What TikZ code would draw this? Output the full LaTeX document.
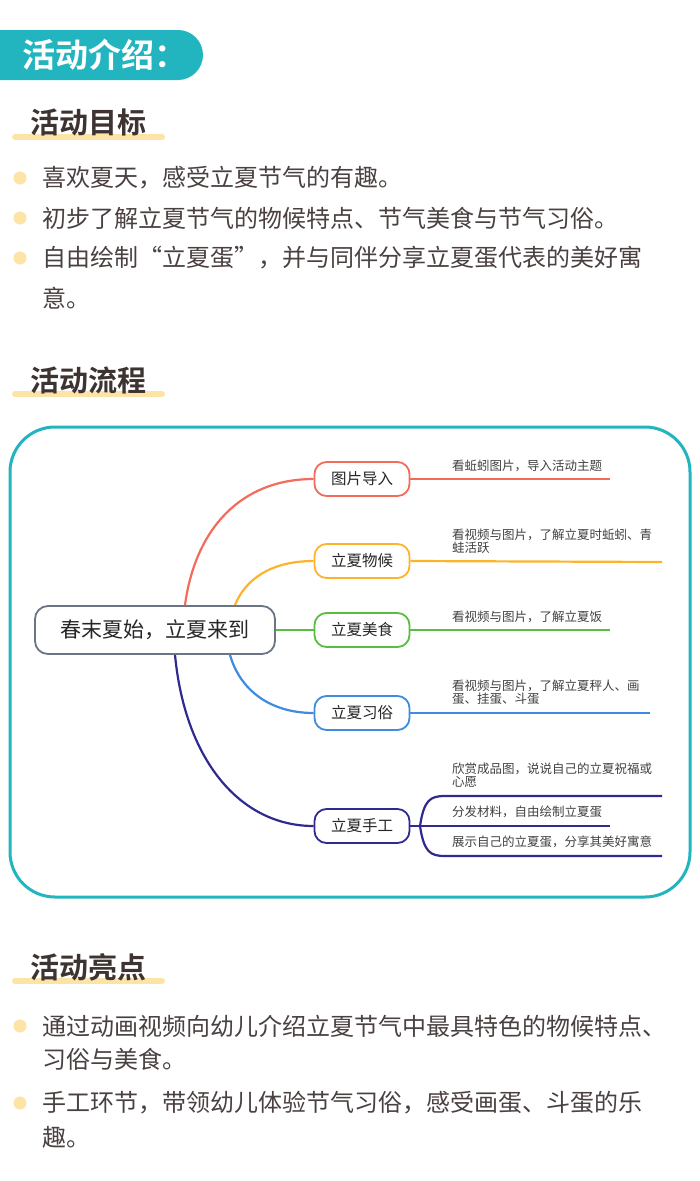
\documentclass[tikz,border=0pt]{standalone}
\usepackage{fontspec}
\usetikzlibrary{backgrounds}
\setmainfont{Noto Sans CJK SC}
\newfontfamily\cjkb{Noto Sans CJK SC Bold}
\definecolor{teal1}{HTML}{22B5BF}
\definecolor{txt}{HTML}{4A4040}
\definecolor{hd}{HTML}{3D3330}
\definecolor{yel}{HTML}{FCE3A6}
\definecolor{cr}{HTML}{F26B5B}
\definecolor{co}{HTML}{FDB42A}
\definecolor{cg}{HTML}{58BE3F}
\definecolor{cb}{HTML}{3E8BE0}
\definecolor{cp}{HTML}{2E2A8F}
\definecolor{cgray}{HTML}{6B7585}
\tikzset{
  bul/.style={anchor=west,inner sep=0,text=txt,font=\fontsize{24pt}{24pt}\selectfont},
  dot/.style={circle,fill=yel,minimum size=13pt,inner sep=0},
  head/.style={anchor=west,inner sep=0,text=hd,font=\cjkb\fontsize{29pt}{29pt}\selectfont},
  bar/.style={yel,line width=6pt,line cap=round},
  br/.style={draw,line width=1.8pt,rounded corners=12pt,minimum width=95pt,minimum height=34pt,inner sep=0,text=black!85,font=\fontsize{15.5pt}{15.5pt}\selectfont,fill=white},
  leaf/.style={anchor=west,inner sep=0,text=black!75,font=\fontsize{12.5pt}{13pt}\selectfont,align=left},
  lk/.style={line width=2.2pt},
}
\begin{document}
\begin{tikzpicture}[x=1pt,y=-1pt]
\useasboundingbox (0,0) rectangle (700,1181);
% header
\fill[teal1,rounded corners=25pt] (-30,30) rectangle (203,80);
\node[anchor=west,inner sep=0,text=white,font=\cjkb\fontsize{33pt}{33pt}\selectfont] (h0) at (22,55) {活动介绍：};
% section 1
\draw[bar] (15,137) -- (162,137);
\node[head] (h1) at (30,122) {活动目标};
\foreach \y/\t [count=\i] in {178/喜欢夏天，感受立夏节气的有趣。,218/初步了解立夏节气的物候特点、节气美食与节气习俗。,258/自由绘制“立夏蛋”，并与同伴分享立夏蛋代表的美好寓}{
  \node[dot] (d\i) at (20,\y) {};
  \node[bul] (b\i) at (42,\y) {\t};
}
\node[bul] (b4) at (42,298) {意。};
% section 2
\draw[bar] (15,394) -- (162,394);
\node[head] (h2) at (30,380) {活动流程};
\draw[teal1,line width=3pt,rounded corners=45pt] (10,427) rectangle (690,897);
% mind map
\node[draw=cgray,line width=1.8pt,rounded corners=13pt,minimum width=240pt,minimum height=48pt,inner sep=0,fill=white,font=\fontsize{21pt}{21pt}\selectfont,text=black!85] (c) at (155,630) {春末夏始，立夏来到};
\node[br,draw=cr] (n1) at (362,479) {图片导入};
\node[br,draw=co] (n2) at (362,561) {立夏物候};
\node[br,draw=cg] (n3) at (362,630) {立夏美食};
\node[br,draw=cb] (n4) at (362,713) {立夏习俗};
\node[br,draw=cp] (n5) at (362,826) {立夏手工};
\begin{scope}[on background layer]
\draw[lk,cr] ([xshift=30pt]c.north) .. controls (195,530) and (240,479) .. (n1.west);
\draw[lk,co] ([xshift=80pt]c.north) .. controls (245,580) and (270,561) .. (n2.west);
\draw[lk,cg] (c.east) -- (n3.west);
\draw[lk,cb] ([xshift=75pt]c.south) .. controls (240,690) and (270,713) .. (n4.west);
\draw[lk,cp] ([xshift=20pt]c.south) .. controls (185,760) and (240,826) .. (n5.west);
\end{scope}
\coordinate (e1) at (610,479);
\coordinate (e2) at (662,562);
\coordinate (e3) at (610,630);
\coordinate (e4) at (650,713);
\coordinate (e5a) at (662,796);
\coordinate (e5b) at (610,826);
\coordinate (e5c) at (662,856);
\coordinate (f) at (420,826);
\draw[lk,cr] (n1.east) -- (e1);
\draw[lk,co] (n2.east) -- (e2);
\draw[lk,cg] (n3.east) -- (e3);
\draw[lk,cb] (n4.east) -- (e4);
\draw[lk,cp] (n5.east) -- (f);
\draw[lk,cp] (f) .. controls (424,800) and (430,796) .. (445,796) -- (e5a);
\draw[lk,cp] (f) -- (e5b);
\draw[lk,cp] (f) .. controls (424,852) and (430,856) .. (445,856) -- (e5c);
\node[leaf] (l1) at (452,466) {看蚯蚓图片，导入活动主题};
\node[leaf] (l2) at (452,541) {看视频与图片，了解立夏时蚯蚓、青\\蛙活跃};
\node[leaf] (l3) at (452,617) {看视频与图片，了解立夏饭};
\node[leaf] (l4) at (452,692) {看视频与图片，了解立夏秤人、画\\蛋、挂蛋、斗蛋};
\node[leaf] (l5) at (452,775) {欣赏成品图，说说自己的立夏祝福或\\心愿};
\node[leaf] (l6) at (452,812) {分发材料，自由绘制立夏蛋};
\node[leaf] (l7) at (452,842) {展示自己的立夏蛋，分享其美好寓意};
% section 3
\draw[bar] (15,981) -- (162,981);
\node[head] (h3) at (30,967) {活动亮点};
\node[dot] (d5) at (20,1026) {};
\node[bul] (b5) at (42,1026) {通过动画视频向幼儿介绍立夏节气中最具特色的物候特点、};
\node[bul] (b6) at (42,1059) {习俗与美食。};
\node[dot] (d6) at (20,1103) {};
\node[bul] (b7) at (42,1103) {手工环节，带领幼儿体验节气习俗，感受画蛋、斗蛋的乐};
\node[bul] (b8) at (42,1137) {趣。};
\end{tikzpicture}
\end{document}
